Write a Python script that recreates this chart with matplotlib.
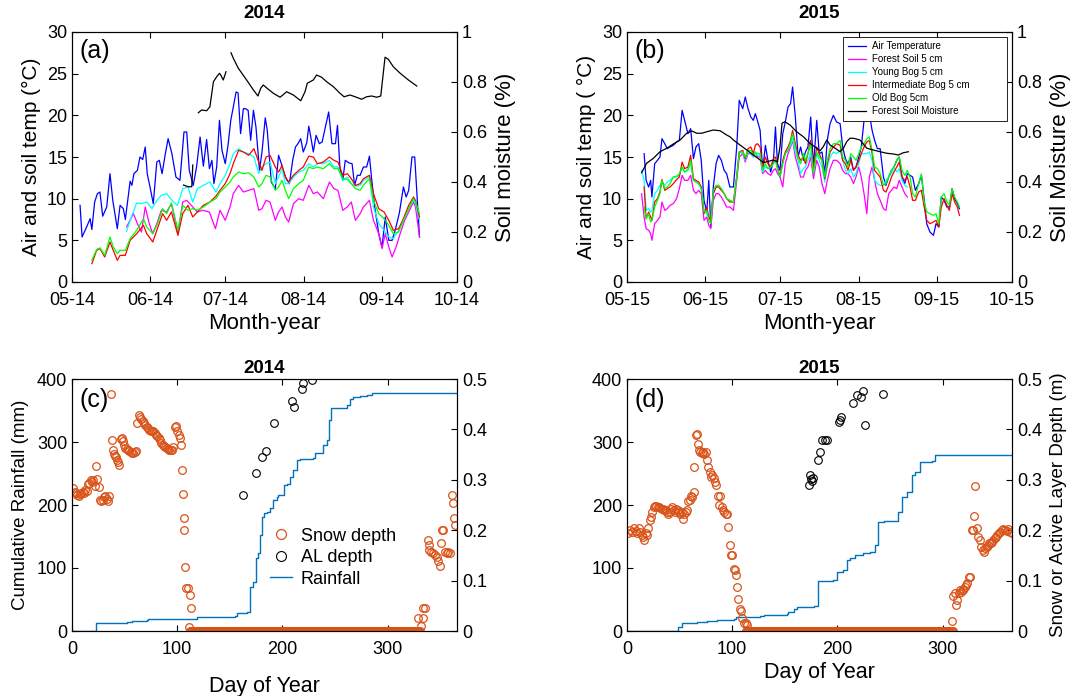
import matplotlib
matplotlib.use('Agg')
import matplotlib.pyplot as plt
import matplotlib.dates as mdates
import matplotlib.ticker as mticker
import numpy as np
import pandas as pd

# ---------------- 2014 temperatures (days after 1 May) ----------------
air14_day = [3.2, 4.0, 5.8, 7.2, 7.9, 9.0, 10.1, 11.1, 12.2, 13.8, 15.1, 16.2, 18.0, 19.1, 20.4, 21.2, 23.1, 23.8,
             24.6, 26.0, 27.0, 28.1, 29.1, 29.9, 31.0, 32.3, 33.7, 34.7, 35.8, 37.1, 38.2, 39.7, 41.3, 42.9, 44.5,
             45.6, 46.6, 48.2, 49.5, 50.9, 52.2, 53.5, 54.6, 55.6, 56.4, 57.5, 58.6, 59.6, 60.9, 62.0, 63.1, 64.1,
             65.2, 66.0, 67.0, 68.1, 68.9, 70.0, 71.0, 72.1, 73.1, 74.5, 75.5, 76.8, 77.6, 79.2, 80.8, 82.1, 83.2,
             84.3, 85.3, 86.4, 87.7, 88.8, 89.8, 90.9, 91.9, 93.3, 94.1, 94.9, 95.9, 97.0, 98.3, 99.4, 100.7, 102.0,
             103.3, 104.7, 105.5, 106.5, 107.6, 108.6, 110.0, 111.3, 112.3, 113.4, 114.5, 115.8, 117.1, 118.2, 119.0,
             120.3, 121.9, 123.2, 124.5, 125.9, 127.2, 128.5, 130.1, 131.7, 132.8, 133.8, 135.1, 136.2, 138.1]
air14 = [9.2, 5.4, 6.6, 7.6, 6.3, 9.6, 10.6, 10.8, 7.9, 9.0, 13.0, 9.8, 6.4, 9.2, 8.8, 7.5, 12.1, 11.6, 13.0, 13.4,
         15.0, 14.7, 16.2, 13.0, 11.4, 9.4, 14.4, 14.6, 13.0, 15.4, 17.2, 15.4, 12.6, 12.2, 18.0, 18.0, 13.4, 11.6,
         13.8, 17.4, 13.9, 17.1, 13.6, 14.6, 11.8, 13.8, 19.4, 15.8, 14.2, 16.4, 19.4, 21.0, 22.8, 22.7, 17.8, 20.8,
         20.8, 20.6, 17.0, 20.6, 18.6, 13.4, 15.6, 19.7, 18.2, 12.0, 11.2, 15.2, 14.2, 13.0, 12.3, 11.8, 14.6, 16.2,
         16.6, 17.2, 15.6, 16.7, 18.7, 17.4, 15.6, 17.6, 16.6, 16.8, 18.6, 20.4, 16.6, 16.6, 18.8, 13.6, 12.2, 14.6,
         14.3, 14.2, 11.6, 12.8, 12.8, 13.8, 13.8, 15.1, 12.6, 9.0, 5.8, 4.2, 7.8, 5.0, 5.0, 6.3, 8.3, 11.4, 10.2,
         11.0, 15.0, 15.0, 5.4]

bog14_day = [7.9, 9.8, 11.1, 13.0, 15.1, 16.4, 18.0, 19.1, 21.2, 23.1, 25.7, 28.4, 29.7, 32.1, 33.7, 36.0, 37.6,
             39.5, 42.1, 44.0, 46.1, 48.0, 49.8, 52.2, 54.8, 57.2, 58.8, 60.9, 62.8, 64.1, 66.2, 68.1, 70.2, 72.3,
             74.2, 75.5, 77.1, 78.7, 80.8, 82.1, 83.5, 84.8, 86.1, 88.0, 90.1, 91.9, 94.1, 95.9, 97.5, 99.9, 102.3,
             104.1, 105.7, 107.6, 109.4, 111.0, 112.6, 114.5, 115.8, 118.2, 119.8, 121.9, 124.0, 125.9, 127.7, 129.8,
             131.7, 133.8, 135.7, 136.5, 138.1]
inter14 = [2.2, 3.8, 4.0, 3.0, 4.8, 3.8, 2.6, 3.2, 3.2, 5.0, 5.8, 6.8, 5.8, 4.8, 6.2, 8.2, 7.4, 8.4, 5.6, 8.2,
           9.2, 7.8, 8.4, 9.2, 9.6, 10.3, 11.0, 11.8, 13.0, 14.2, 15.8, 15.6, 15.2, 16.0, 14.4, 13.4, 15.0, 15.2,
           13.8, 13.2, 14.0, 12.6, 12.0, 12.8, 13.4, 13.8, 15.1, 15.0, 14.2, 14.4, 15.0, 14.6, 14.4, 12.8, 13.0,
           12.4, 11.6, 11.8, 12.4, 12.8, 10.6, 8.8, 8.4, 7.4, 6.2, 6.4, 7.6, 9.2, 10.2, 9.8, 7.8]
old14 = [2.6, 3.9, 4.1, 3.2, 5.4, 4.2, 3.4, 3.8, 3.8, 5.2, 6.2, 7.6, 6.6, 5.8, 6.8, 8.8, 8.2, 9.5, 6.2, 9.2,
         8.6, 8.8, 8.6, 9.0, 9.6, 10.0, 10.8, 11.4, 12.0, 12.6, 13.2, 13.0, 13.1, 12.6, 11.4, 11.8, 12.8, 12.6,
         11.0, 11.4, 12.2, 11.0, 10.0, 11.2, 11.8, 12.2, 13.8, 13.6, 13.8, 13.6, 14.2, 13.6, 13.6, 12.4, 12.3,
         11.8, 11.2, 11.0, 11.6, 12.4, 9.8, 8.2, 7.6, 6.8, 5.8, 6.0, 7.4, 8.8, 10.0, 9.6, 8.2]

young14_day = [21.7, 23.6, 25.7, 27.6, 29.7, 31.8, 33.7, 35.5, 37.6, 39.7, 41.9, 44.0, 46.1, 48.0, 49.8, 52.2,
               54.8, 57.2, 58.8, 60.9, 62.8, 64.1, 66.2, 68.1, 70.2, 72.3, 74.2, 75.5, 77.1, 78.7, 80.8, 82.1,
               83.5, 84.8, 86.1, 88.0, 90.1, 91.9, 94.1, 95.9, 97.5, 99.9, 102.3, 104.1, 105.7, 107.6, 109.4, 111.0,
               112.6, 114.5, 115.8, 118.2, 119.8, 121.9, 124.0, 125.9, 127.7, 129.8, 131.7, 133.8, 135.7, 136.5,
               138.1]
young14 = [6.1, 7.8, 9.5, 9.4, 9.6, 8.8, 9.8, 10.4, 10.6, 9.8, 9.2, 11.2, 11.4, 9.6, 11.2, 11.6, 12.0, 10.8,
           11.8, 12.8, 14.2, 15.4, 16.0, 15.6, 15.4, 15.0, 13.0, 13.8, 14.2, 14.4, 11.8, 12.6, 13.6, 11.8, 11.8,
           12.6, 13.2, 13.4, 14.2, 13.8, 14.2, 14.2, 14.6, 13.8, 13.8, 12.2, 12.6, 11.8, 11.5, 11.6, 12.2, 12.6,
           9.0, 7.0, 6.2, 5.4, 5.2, 6.2, 7.4, 8.8, 9.8, 9.4, 7.4]

forest14_day = [21.7, 24.4, 26.0, 27.6, 29.1, 30.7, 32.1, 33.7, 35.5, 37.6, 39.5, 42.1, 44.0, 45.6, 47.4, 49.8,
                51.9, 54.6, 57.0, 58.8, 60.9, 62.8, 64.1, 66.2, 68.1, 70.2, 72.3, 74.2, 75.5, 77.1, 78.7, 80.8,
                82.1, 83.5, 84.8, 86.1, 88.0, 90.1, 91.9, 94.1, 95.9, 97.5, 99.9, 102.3, 104.1, 105.7, 107.6, 109.4,
                111.0, 112.6, 114.5, 115.8, 118.2, 119.8, 121.9, 123.2, 124.5, 125.9, 127.2, 128.8, 130.4, 132.2,
                133.8, 135.7, 136.5, 138.1]
forest14 = [6.6, 8.2, 7.0, 6.0, 9.0, 7.0, 5.8, 7.0, 8.6, 8.4, 9.4, 5.8, 9.6, 9.8, 9.2, 8.4, 8.6, 8.4, 6.4, 8.6,
            7.4, 9.0, 10.6, 11.6, 10.8, 11.0, 11.2, 8.6, 8.8, 9.8, 9.6, 7.4, 8.4, 9.0, 7.8, 7.2, 9.4, 10.0, 9.8,
            11.6, 10.6, 10.8, 10.0, 12.0, 11.2, 11.0, 8.6, 9.0, 9.6, 7.4, 8.2, 9.0, 9.8, 7.4, 5.8, 4.0, 5.8, 4.2,
            3.0, 4.2, 5.8, 7.4, 8.4, 9.6, 9.0, 5.4]

# soil moisture 2014 (fraction), gaps marked with nan
moist14_day = [44.3, 46.2, 47.6, 48.0, 49.0,
               50.2, 51.5, 53.5, 54.8, 56.2, 57.5, 58.6, 59.1, 60.1, 61.2, 62.2,
               63.2, 64.1, 66.1, 69.4, 72.1, 73.9, 75.0, 76.0, 78.0, 80.0, 82.7, 85.3, 88.0, 90.9, 92.6, 93.5,
               94.6, 95.9, 97.2, 99.2, 101.2, 103.9, 106.5, 108.1, 110.5, 112.5, 115.1, 117.1, 119.1, 121.1, 122.7,
               124.4, 125.7, 127.7, 130.4, 133.7, 137.0]
moist14 = [0.388, 0.381, 0.381, 0.468, np.nan,
           0.677, 0.688, 0.685, 0.701, 0.801, 0.821, 0.835, 0.828, 0.808, 0.841, np.nan,
           0.917, 0.895, 0.855, 0.808, 0.768, 0.744, 0.775, 0.788, 0.771, 0.755, 0.739, 0.761, 0.748, 0.725,
           0.761, 0.795, 0.801, 0.808, 0.828, 0.819, 0.801, 0.781, 0.755, 0.741, 0.748, 0.741, 0.731, 0.741,
           0.744, 0.739, 0.744, 0.899, 0.891, 0.861, 0.835, 0.808, 0.784]

# ---------------- 2015 temperatures ----------------
t15_day = [6.8, 7.6, 8.6, 9.4, 9.9, 11.0, 12.1, 13.1, 13.9, 15.0, 16.0, 17.1, 18.4, 19.7, 20.8, 21.9, 22.9, 24.2,
           25.3, 26.4, 27.4, 28.5, 29.5, 30.6, 31.7, 32.5, 33.3, 34.3, 35.4, 36.4, 37.5, 38.6, 39.6, 40.9, 42.3,
           43.6, 44.6, 46.0, 47.0, 48.1, 49.2, 50.2, 51.0, 51.8, 52.9, 53.9, 55.0, 56.0, 57.1, 58.2, 59.0, 59.8,
           60.8, 61.9, 62.9, 64.0, 65.0, 65.8, 66.9, 68.0, 69.0, 70.1, 70.9, 71.9, 73.0, 74.1, 75.4, 76.4, 77.5,
           78.6, 79.6, 80.7, 82.0, 83.3, 84.7, 85.7, 86.8, 87.8, 88.9, 90.0, 91.0, 92.1, 93.1, 94.2, 95.3, 96.3,
           97.4, 98.4, 99.5, 100.6, 101.9, 102.9, 104.0, 105.1, 106.1, 107.2, 108.2, 109.3, 110.4, 111.4, 112.5,
           113.5, 114.6, 115.9, 117.0, 118.0, 119.1, 120.4, 121.8, 122.8, 123.9, 124.9, 126.0, 127.1, 128.1,
           129.2, 130.2, 131.3, 132.1]
air15 = [15.4, 12.2, 11.4, 12.2, 10.2, 14.2, 14.6, 15.0, 17.2, 16.6, 16.0, 16.2, 16.4, 16.8, 17.0, 20.6, 19.4,
         17.8, 18.4, 14.8, 16.2, 16.6, 14.6, 9.8, 8.4, 12.2, 6.6, 11.4, 14.2, 15.2, 14.6, 13.4, 13.0, 11.4, 11.4,
         16.2, 21.8, 20.8, 22.2, 20.8, 19.8, 19.4, 20.2, 19.4, 18.2, 13.4, 16.4, 14.6, 13.2, 14.6, 18.6, 14.2,
         13.4, 17.8, 19.2, 21.0, 21.4, 23.4, 19.8, 15.0, 16.2, 14.6, 15.6, 16.2, 19.8, 13.8, 19.4, 15.4, 15.6,
         13.0, 17.0, 19.0, 20.0, 19.2, 19.0, 16.2, 14.8, 14.2, 15.0, 13.4, 13.8, 15.0, 16.2, 19.4, 22.2, 20.2,
         18.2, 17.0, 16.0, 16.0, 12.6, 11.6, 12.6, 13.4, 13.8, 14.6, 15.0, 12.6, 11.8, 13.0, 12.8, 12.6, 11.0,
         11.8, 12.8, 10.2, 7.0, 6.0, 5.6, 7.0, 6.6, 10.2, 9.8, 9.0, 9.0, 11.2, 10.0, 9.4, 8.8]
inter15 = [11.4, 7.6, 8.4, 7.8, 7.4, 9.6, 10.0, 10.8, 12.3, 11.0, 11.2, 11.4, 11.8, 12.3, 12.6, 14.4, 13.6, 13.8,
           15.2, 12.4, 12.2, 12.0, 11.4, 8.2, 9.0, 7.8, 7.4, 10.6, 11.4, 11.4, 11.0, 10.6, 10.0, 9.6, 9.6, 12.6,
           15.6, 15.8, 14.8, 16.0, 16.2, 15.4, 16.4, 16.6, 16.2, 13.8, 15.0, 14.2, 13.8, 14.8, 15.0, 13.8, 12.6,
           14.6, 15.6, 16.2, 17.0, 18.2, 16.6, 15.2, 14.6, 15.0, 14.2, 15.4, 17.0, 13.6, 16.2, 15.4, 14.6, 12.4,
           14.2, 15.6, 16.2, 16.6, 16.4, 14.6, 14.2, 13.4, 14.6, 13.4, 13.8, 14.6, 15.4, 16.2, 16.8, 17.0, 15.4,
           13.4, 13.0, 12.6, 11.0, 10.8, 11.6, 12.6, 13.2, 13.8, 14.4, 12.6, 12.2, 12.6, 11.4, 9.8, 9.8, 10.8,
           11.0, 9.2, 7.4, 7.0, 7.2, 7.4, 6.6, 9.0, 10.0, 9.2, 8.6, 10.6, 9.6, 9.0, 8.0]
old15 = [9.0, 7.6, 8.2, 7.2, 7.4, 9.0, 9.8, 10.6, 12.2, 11.2, 11.4, 11.8, 12.6, 12.7, 13.0, 13.8, 13.2, 13.4,
         14.6, 12.2, 12.0, 11.8, 11.2, 8.4, 8.6, 7.4, 7.0, 11.0, 11.6, 11.6, 11.2, 10.6, 10.0, 9.8, 9.6, 12.6,
         15.6, 15.6, 15.0, 15.8, 15.8, 15.2, 15.6, 15.4, 15.4, 13.4, 14.2, 13.6, 13.8, 14.2, 14.6, 13.6, 12.6,
         14.2, 15.4, 15.8, 16.8, 17.8, 16.2, 14.8, 14.2, 15.4, 14.6, 15.4, 16.6, 13.0, 15.6, 15.0, 14.6, 12.6,
         14.6, 16.0, 16.6, 16.6, 17.0, 15.0, 14.6, 13.8, 15.4, 15.0, 14.6, 15.4, 16.2, 16.6, 17.2, 17.4, 15.8,
         13.8, 13.6, 13.0, 11.6, 11.8, 12.6, 13.4, 13.8, 14.6, 15.0, 13.4, 12.8, 13.4, 12.6, 10.6, 10.2, 11.8,
         13.0, 9.8, 8.4, 8.2, 8.0, 8.2, 7.0, 10.2, 10.6, 9.6, 9.2, 11.2, 10.2, 9.6, 9.0]

# young bog and forest soil 2015 stop earlier than the other series
short15_day = [5.8] + t15_day[:100]
young15 = [13.4,
           12.2, 8.6, 8.8, 8.4, 8.6, 10.6, 11.0, 11.6, 12.0, 11.6, 12.0, 12.2, 12.6, 12.6, 12.8, 13.8, 13.2, 13.6,
           14.2, 12.2, 12.0, 11.8, 11.4, 8.6, 8.2, 7.8, 7.4, 10.6, 11.4, 11.6, 11.2, 10.6, 10.0, 9.8, 9.6, 12.6,
           15.6, 15.4, 14.6, 15.6, 15.4, 15.0, 15.4, 15.2, 15.2, 13.2, 13.8, 13.6, 13.8, 14.2, 14.6, 13.6, 12.6,
           14.2, 15.4, 15.8, 16.4, 17.2, 15.6, 14.6, 13.0, 13.6, 13.8, 14.6, 15.6, 13.2, 15.4, 14.6, 13.8, 12.0,
           13.8, 15.0, 15.6, 15.4, 15.8, 14.6, 13.4, 13.0, 13.6, 12.6, 13.0, 14.2, 15.4, 15.4, 15.4, 15.6, 14.6,
           12.2, 11.8, 11.6, 11.6, 12.2, 12.6, 13.0, 13.8, 13.2, 13.6, 12.2, 11.6, 11.4]
forest15 = [10.6,
            7.8, 6.4, 6.2, 5.8, 5.0, 7.0, 7.4, 7.8, 9.6, 8.6, 8.8, 9.2, 9.4, 10.0, 11.2, 12.8, 12.2, 12.2, 12.8,
            11.0, 10.6, 11.0, 10.6, 7.4, 7.8, 6.8, 6.4, 9.8, 10.6, 10.6, 10.2, 9.6, 9.0, 9.0, 8.6, 12.2, 15.0, 15.4,
            14.4, 15.4, 15.4, 15.0, 15.4, 15.0, 15.0, 13.0, 13.4, 13.0, 12.8, 13.4, 13.6, 13.0, 12.6, 11.4, 14.2,
            15.4, 16.2, 17.0, 15.0, 13.8, 12.6, 12.6, 13.4, 13.8, 15.0, 12.4, 14.6, 13.8, 11.8, 10.6, 12.2, 13.6,
            14.6, 14.6, 14.2, 13.4, 13.0, 13.0, 12.6, 11.8, 12.6, 13.8, 12.6, 10.6, 8.2, 12.6, 13.8, 12.2, 10.6,
            9.8, 8.8, 8.6, 10.6, 11.0, 11.4, 11.2, 12.2, 11.4, 10.6, 10.2]

moist15_day = [5.8, 7.8, 10.5, 13.1, 15.8, 18.4, 21.1, 23.7, 25.8, 27.7, 29.7, 31.7, 34.3, 37.0, 39.6, 40.9,
               42.3, 44.9, 47.6, 50.2, 52.9, 54.2, 55.5, 58.2, 59.8, 60.8, 61.6, 62.7, 64.8, 67.4, 70.1, 72.7,
               75.4, 76.7, 78.0, 79.4, 80.7, 82.7, 84.7, 86.0, 87.3, 88.6, 90.0, 92.6, 95.3, 97.9, 100.6, 103.2,
               105.9, 107.8, 109.8, 111.8]
moist15 = [0.437, 0.475, 0.495, 0.521, 0.535, 0.552, 0.568, 0.595, 0.604, 0.595, 0.595, 0.601, 0.608, 0.605,
           0.588, 0.581, 0.568, 0.548, 0.528, 0.508, 0.488, 0.477, 0.481, 0.488, 0.481, 0.541, 0.635, 0.641,
           0.628, 0.601, 0.581, 0.555, 0.535, 0.525, 0.541, 0.568, 0.548, 0.535, 0.521, 0.535, 0.561, 0.575,
           0.575, 0.568, 0.535, 0.528, 0.521, 0.515, 0.512, 0.508, 0.517, 0.521]

# ---------------- 2014 rain / snow / active layer (day of year) ----------------
rain14_doy = [0, 22.8, 52.0, 56.7, 71.0, 72.6, 99.5, 118.5, 137.5, 154.9, 156.5, 166.0, 169.2, 172.4, 174.9,
              177.1, 178.7, 180.3, 182.5, 185.0, 188.2, 191.4, 194.5, 196.1, 201.5, 204.1, 207.2, 210.4, 214.2,
              216.7, 229.4, 231.0, 238.9, 242.1, 244.6, 245.9, 261.1, 264.3, 266.8, 273.8, 280.1, 284.9, 366]
rain14 = [0, 12.2, 14.3, 15.9, 17.5, 18.5, 19.6, 21.7, 22.8, 23.8, 29.1, 30.7, 70.4, 78.3, 115.3, 123.3, 152.4,
          181.5, 186.8, 189.4, 194.7, 207.9, 213.2, 215.9, 231.7, 233.3, 245.0, 255.6, 271.4, 272.5, 274.1, 282.0,
          295.2, 303.2, 334.9, 353.4, 358.7, 367.7, 372.0, 373.0, 375.0, 377.2, 377.2]

snow14_doy = [1.3, 2.5, 3.8, 5.1, 6.3, 7.6, 8.9, 10.1, 11.4, 12.7, 13.9, 15.2, 16.5, 17.7, 19.0, 20.3, 21.5, 22.8,
              24.1, 25.3, 26.6, 27.9, 29.2, 30.4, 31.7, 33.0, 34.2, 35.5, 36.8, 37.7, 38.7, 39.6, 40.6, 41.5, 42.5,
              43.7, 45.0, 46.3, 47.2, 48.2, 49.4, 50.7, 52.0, 53.2, 54.5, 55.8, 57.0, 58.3, 59.6, 60.8, 62.1, 63.4,
              64.6, 65.9, 67.2, 68.4, 69.7, 71.0, 72.2, 73.5, 74.8, 76.0, 77.3, 78.6, 79.8, 81.1, 82.4, 83.7, 84.9,
              86.2, 87.5, 88.7, 90.0, 91.3, 92.5, 93.8, 95.1, 96.3, 97.6, 98.9, 100.1, 101.4, 102.7, 103.6, 104.2,
              105.2, 106.1, 106.8, 107.7, 108.7, 110.6, 111.9, 112.8, 110.9,
              329.2, 331.4, 333.3, 334.0, 335.2, 338.1, 339.0, 339.7, 340.9, 342.8, 345.0, 346.6, 348.2, 349.8,
              350.7, 351.7, 353.0, 354.6, 356.1, 357.7, 359.3, 361.2, 361.8, 363.1, 364.4]
snow14 = [0.283, 0.276, 0.273, 0.270, 0.268, 0.272, 0.274, 0.276, 0.273, 0.280, 0.278, 0.292, 0.294, 0.300,
          0.296, 0.300, 0.288, 0.327, 0.301, 0.286, 0.260, 0.257, 0.260, 0.265, 0.267, 0.261, 0.257, 0.267, 0.470,
          0.379, 0.360, 0.351, 0.347, 0.345, 0.339, 0.336, 0.329, 0.380, 0.382, 0.376, 0.369, 0.364, 0.362, 0.359,
          0.358, 0.356, 0.354, 0.354, 0.356, 0.358, 0.412, 0.429, 0.425, 0.420, 0.417, 0.412, 0.409, 0.405, 0.402,
          0.399, 0.397, 0.396, 0.397, 0.392, 0.389, 0.386, 0.382, 0.379, 0.374, 0.369, 0.367, 0.366, 0.364, 0.362,
          0.360, 0.359, 0.360, 0.366, 0.405, 0.407, 0.396, 0.389, 0.382, 0.369, 0.319, 0.271, 0.224, 0.200, 0.126,
          0.086, 0.085, 0.071, 0.045, 0.007,
          0.026, 0.009, 0.025, 0.045, 0.045, 0.181, 0.171, 0.161, 0.157, 0.154, 0.151, 0.147, 0.138, 0.129,
          0.174, 0.200, 0.200, 0.157, 0.154, 0.157, 0.154, 0.270, 0.253, 0.224, 0.210]
snow14_bare = (112, 331)   # first and last snow-free day (depth 0)

al14_doy = [162.9, 174.6, 180.9, 184.4, 192.3, 209.4, 211.3, 218.3, 219.3, 227.8]
al14 = [0.270, 0.313, 0.345, 0.358, 0.412, 0.457, 0.444, 0.480, 0.493, 0.498]

# ---------------- 2015 rain / snow / active layer ----------------
rain15_doy = [0, 48.1, 52.2, 55.4, 66.5, 76.0, 85.5, 101.3, 103.8, 117.1, 126.6, 129.8, 151.9, 153.5, 158.3,
              161.4, 170.9, 177.3, 182.0, 196.3, 200.1, 205.1, 208.9, 212.1, 216.8, 224.8, 231.1, 235.8, 239.0,
              244.0, 258.0, 261.2, 265.9, 270.7, 273.8, 278.6, 289.6, 292.8, 366]
rain15 = [0, 6.9, 12.2, 13.2, 14.8, 16.4, 17.5, 19.6, 21.7, 22.8, 23.8, 25.4, 27.0, 30.7, 34.4, 37.6, 38.6, 39.7,
          79.9, 81.0, 94.2, 96.8, 112.7, 115.3, 120.6, 123.3, 125.9, 136.5, 173.5, 175.1, 189.4, 213.2, 221.2,
          247.6, 252.9, 268.8, 270.4, 279.4, 279.4]

snow15_doy = [0.6, 2.5, 4.4, 6.3, 8.2, 9.5, 11.4, 12.7, 13.9, 15.2, 16.5, 17.7, 19.0, 20.3, 21.5, 22.8, 24.1, 25.3,
              26.6, 27.9, 29.1, 30.4, 31.7, 32.9, 34.2, 35.5, 36.7, 38.0, 39.3, 40.5, 41.8, 43.1, 44.3, 45.6, 46.9,
              48.1, 49.4, 50.6, 51.9, 53.2, 54.4, 55.7, 57.0, 58.2, 59.5, 60.8, 62.0, 63.3, 63.9, 65.2, 66.5, 67.7,
              68.4, 69.6, 70.9, 72.2, 73.4, 74.7, 76.0, 77.2, 78.5, 79.8, 81.0, 82.3, 83.6, 84.8, 86.1, 87.4, 88.6,
              89.9, 91.2, 92.4, 93.7, 95.0, 96.2, 97.5, 98.8, 100.0, 101.3, 102.6, 103.8, 104.5, 105.7, 107.0, 108.3,
              109.5, 111.4, 112.7, 114.0,
              308.6, 309.6, 311.8, 312.8, 314.0, 315.3, 316.6, 317.8, 319.1, 319.7, 321.0, 322.3, 323.5, 324.8,
              326.1, 327.6, 329.2, 329.8, 331.1, 332.4, 334.0, 335.6, 336.8, 338.1, 339.4, 340.6, 341.9, 343.1,
              344.4, 345.7, 346.9, 348.2, 349.5, 350.7, 352.0, 353.3, 354.5, 356.1, 357.7, 359.3, 360.9, 362.5,
              364.0, 365.8]
snow15 = [0.195, 0.200, 0.197, 0.204, 0.199, 0.194, 0.204, 0.197, 0.190, 0.187, 0.181, 0.194, 0.190, 0.204,
          0.220, 0.227, 0.237, 0.247, 0.249, 0.248, 0.247, 0.247, 0.245, 0.243, 0.243, 0.241, 0.240, 0.237, 0.233,
          0.237, 0.243, 0.247, 0.241, 0.237, 0.243, 0.240, 0.237, 0.233, 0.237, 0.222, 0.232, 0.237, 0.240, 0.257,
          0.260, 0.267, 0.265, 0.276, 0.325, 0.389, 0.391, 0.372, 0.359, 0.356, 0.354, 0.356, 0.351, 0.356, 0.339,
          0.326, 0.316, 0.306, 0.310, 0.303, 0.296, 0.290, 0.267, 0.250, 0.267, 0.247, 0.240, 0.237, 0.233, 0.233,
          0.207, 0.171, 0.151, 0.151, 0.124, 0.122, 0.111, 0.088, 0.063, 0.043, 0.040, 0.025, 0.015, 0.015, 0.012,
          0.019, 0.069, 0.075, 0.052, 0.062, 0.075, 0.081, 0.078, 0.081, 0.083, 0.088, 0.091, 0.096, 0.108,
          0.108, 0.200, 0.200, 0.228, 0.288, 0.204, 0.187, 0.181, 0.167, 0.161, 0.157, 0.164, 0.167, 0.171,
          0.174, 0.175, 0.177, 0.181, 0.184, 0.187, 0.190, 0.194, 0.197, 0.200, 0.202, 0.200, 0.199, 0.202,
          0.197, 0.194]
snow15_bare = (113, 310)

al15_doy = [172.8, 174.1, 174.7, 175.7, 176.6, 181.1, 183.0, 185.5, 188.0, 190.6, 201.3, 202.6, 203.2, 215.3,
            218.4, 222.2, 224.1, 226.0, 243.7]
al15 = [0.290, 0.310, 0.301, 0.298, 0.303, 0.339, 0.356, 0.379, 0.379, 0.379, 0.415, 0.419, 0.424, 0.453,
        0.468, 0.464, 0.477, 0.409, 0.470]

plt.rcParams['font.family'] = ['Liberation Sans', 'DejaVu Sans']
plt.rcParams['xtick.direction'] = 'in'
plt.rcParams['ytick.direction'] = 'in'
plt.rcParams['xtick.labelsize'] = 13
plt.rcParams['ytick.labelsize'] = 13
plt.rcParams['xtick.major.pad'] = 7
plt.rcParams['axes.linewidth'] = 0.8

snow_col = '#D95319'
rain_col = '#0072BD'
fmt = mticker.FuncFormatter(lambda v, p: '%g' % round(v, 3))

fig = plt.figure(figsize=(10.83, 6.96), dpi=100)
W, H = 1083, 696


def rect(x0, y0, x1, y1):
    return [x0 / W, 1 - y1 / H, (x1 - x0) / W, (y1 - y0) / H]


def dates(year, days):
    return pd.Timestamp('%d-05-01' % year) + pd.to_timedelta(np.asarray(days, dtype=float), unit='D')


def temp_panel(r, year, series, m_day, m_val, tag, ylab, rlab, legend):
    ax = fig.add_axes(r)
    handles = []
    for d, v, c, lab in series:
        h, = ax.plot(dates(year, d), v, color=c, lw=0.9, label=lab)
        handles.append(h)
    ax.set_xlim(pd.Timestamp('%d-05-01' % year), pd.Timestamp('%d-10-01' % year))
    ax.set_ylim(0, 30)
    ax.set_yticks(np.arange(0, 31, 5))
    ax.xaxis.set_major_locator(mdates.MonthLocator())
    ax.xaxis.set_major_formatter(mdates.DateFormatter('%m-%y'))
    ax.tick_params(axis='x', top=True, length=4)
    ax.tick_params(axis='y', length=4)
    ax.set_xlabel('Month-year', fontsize=16, labelpad=3)
    ax.set_ylabel(ylab, fontsize=15, labelpad=4)
    ax.set_title(str(year), fontweight='bold', fontsize=13.5, pad=10)
    ax.text(0.02, 0.925, tag, transform=ax.transAxes, fontsize=18, va='center')
    ax2 = ax.twinx()
    h, = ax2.plot(dates(year, m_day), m_val, color='k', lw=0.9, label='Forest Soil Moisture')
    handles.append(h)
    ax2.set_ylim(0, 1)
    ax2.set_yticks(np.arange(0, 1.01, 0.2))
    ax2.yaxis.set_major_formatter(fmt)
    ax2.tick_params(axis='y', length=4)
    ax2.set_ylabel(rlab, fontsize=16, labelpad=6)
    if legend:
        lg = ax2.legend(handles=handles, loc='upper left', bbox_to_anchor=(0.561, 0.64, 0.426, 0.342),
                        mode='expand', borderaxespad=0, fontsize=7, fancybox=False, framealpha=1,
                        edgecolor='k', handlelength=1.9, handletextpad=0.6, labelspacing=0.3, borderpad=0.5)
        lg.get_frame().set_linewidth(0.6)
        lg.set_zorder(10)
    return ax, ax2


def snow_panel(r, year, r_doy, r_val, s_doy, s_val, bare, a_doy, a_val, tag, ylab, rlab, xpad, legend):
    ax = fig.add_axes(r)
    hr, = ax.plot(r_doy, r_val, color=rain_col, lw=1.0, drawstyle='steps-post', label='Rainfall')
    ax.set_xlim(0, 366)
    ax.set_ylim(0, 400)
    ax.set_xticks([0, 100, 200, 300])
    ax.set_yticks(np.arange(0, 401, 100))
    ax.tick_params(axis='x', top=True, length=4)
    ax.tick_params(axis='y', length=4)
    ax.set_xlabel('Day of Year', fontsize=15.5, labelpad=xpad)
    if ylab:
        ax.set_ylabel(ylab, fontsize=13.5, labelpad=6)
    ax.set_title(str(year), fontweight='bold', fontsize=13.5, pad=4)
    ax.text(0.02, 0.915, tag, transform=ax.transAxes, fontsize=18, va='center')
    ax2 = ax.twinx()
    bare_days = np.arange(bare[0], bare[1] + 1)
    s_all = np.concatenate([s_doy, bare_days])
    v_all = np.concatenate([s_val, np.zeros(len(bare_days))])
    hs, = ax2.plot(s_all, v_all, 'o', mfc='none', mec=snow_col, ms=5.5, mew=0.9, label='Snow depth')
    ha, = ax2.plot(a_doy, a_val, 'o', mfc='none', mec='k', ms=5.5, mew=0.8, label='AL depth')
    ax2.set_ylim(0, 0.5)
    ax2.set_yticks(np.arange(0, 0.51, 0.1))
    ax2.yaxis.set_major_formatter(fmt)
    ax2.tick_params(axis='y', length=4)
    if rlab:
        ax2.set_ylabel(rlab, fontsize=13.5, labelpad=6)
    if legend:
        ax2.legend(handles=[hs, ha, hr], loc='upper left', bbox_to_anchor=(0.515, 0.41), borderaxespad=0,
                   frameon=False, fontsize=13, handlelength=1.2, handletextpad=0.5, labelspacing=0.25,
                   markerscale=1.3, borderpad=0)
    return ax, ax2


temp_panel(rect(72, 32, 457, 282), 2014,
           [(air14_day, air14, 'blue', 'Air Temperature'),
            (forest14_day, forest14, 'magenta', 'Forest Soil 5 cm'),
            (young14_day, young14, 'cyan', 'Young Bog 5 cm'),
            (bog14_day, inter14, 'red', 'Intermediate Bog 5 cm'),
            (bog14_day, old14, 'lime', 'Old Bog 5cm')],
           moist14_day, moist14, '(a)', 'Air and soil temp (\u00b0C)', 'Soil moisture (%)', False)

temp_panel(rect(627, 32, 1012, 282), 2015,
           [(t15_day, air15, 'blue', 'Air Temperature'),
            (short15_day, forest15, 'magenta', 'Forest Soil 5 cm'),
            (short15_day, young15, 'cyan', 'Young Bog 5 cm'),
            (t15_day, inter15, 'red', 'Intermediate Bog 5 cm'),
            (t15_day, old15, 'lime', 'Old Bog 5cm')],
           moist15_day, moist15, '(b)', 'Air and soil temp ( \u00b0C)', 'Soil Moisture (%)', True)

snow_panel(rect(72, 379, 457, 631), 2014, rain14_doy, rain14, snow14_doy, snow14, snow14_bare,
           al14_doy, al14, '(c)', 'Cumulative Rainfall (mm)', None, 13, True)

snow_panel(rect(627, 379, 1012, 631), 2015, rain15_doy, rain15, snow15_doy, snow15, snow15_bare,
           al15_doy, al15, '(d)', None, 'Snow or Active Layer Depth (m)', 3, False)

fig.savefig('out.png', dpi=100)
